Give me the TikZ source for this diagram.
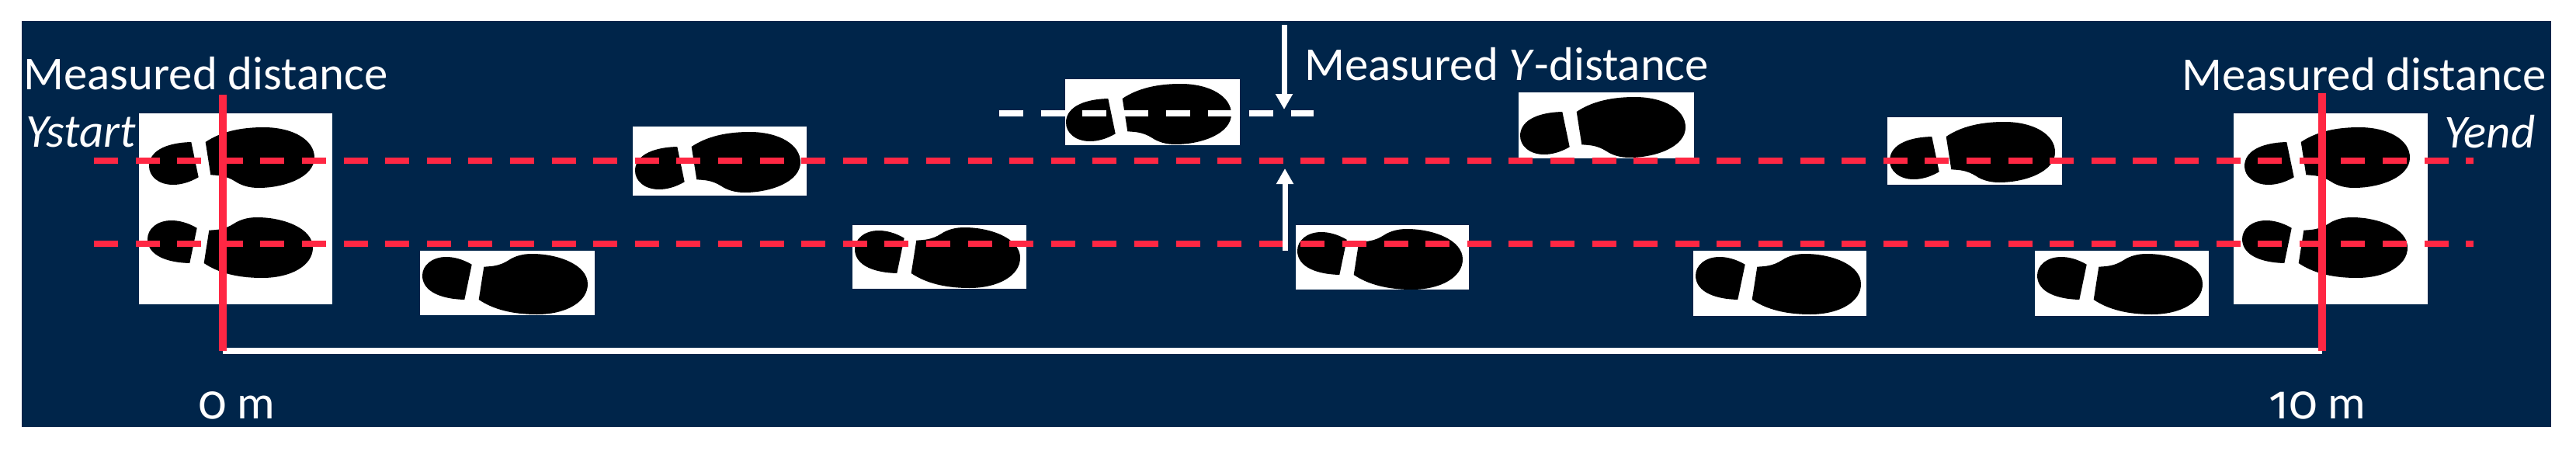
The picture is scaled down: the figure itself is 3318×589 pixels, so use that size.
\documentclass[tikz,border=0pt]{standalone}
\usepackage{fontspec}
\setmainfont{Carlito}
\newfontfamily\digitfont{Fira Sans}[Numbers=OldStyle]
\usetikzlibrary{arrows.meta}
\definecolor{panelblue}{HTML}{00254A}
\definecolor{redline}{HTML}{FF2743}
\newcommand\shoepaths{%
    \fill[black] (66.7,17.7) .. controls (55,11) and (44,8) .. (34,8) .. controls (15,8) and (3,19) .. (3,32)
      .. controls (3,50) and (22,62) .. (57.3,63) -- cycle;
    \fill[black] (82.3,20.7) .. controls (92,20) and (102,20) .. (114,12.3) .. controls (122,7) and (132,4) .. (144,4)
      .. controls (178,4) and (216,18) .. (216,43) .. controls (216,66) and (188,82) .. (150.7,82)
      .. controls (120,82) and (95,76) .. (75.7,63) -- cycle;
}
\tikzset{
  whitebox/.style={fill=white,draw=none},
  label/.style={text=white,anchor=base west,inner sep=0pt,font=\fontsize{30.4}{33}\selectfont},
  redsolid/.style={draw=redline,line width=5pt},
  reddash/.style={draw=redline,line width=4pt,dash pattern=on 15.5pt off 11.3pt},
  whitedash/.style={draw=white,line width=4pt,dash pattern=on 15.5pt off 11.35pt},
  whitearrow/.style={draw=white,line width=3.5pt,-{Triangle[width=10.5pt,length=10pt]}},
  shoeA/.pic={\shoepaths},
  shoeB/.pic={\begin{scope}[shift={(0,86)},yscale=-1]\shoepaths\end{scope}},
}
\begin{document}
\begin{tikzpicture}[x=.5pt,y=-.5pt]
\useasboundingbox (0,0) rectangle (3318,589);
\fill[panelblue] (28,27) rectangle (3286,550);
% white boxes
\foreach \a/\b/\c/\d in {179/146/428/392,541/323/766/406,815/163/1039/252,1098/290/1322/372,1372/102/1597/187,1669/290/1892/373,1956/119/2182/204,2181/323/2404/407,2431/151/2656/238,2621/323/2845/407,2877/146/3127/392}
  \fill[whitebox] (\a,\b) rectangle (\c,\d);
% shoes
\foreach \a/\b in {187/276,541/323,1098/289,1668/291,2181/323,2621/323,2885/276}
  \pic at (\a,\b) {shoeA};
\foreach \a/\b in {189/160,815/166,1370/104,1955/121,2431/153,2888/160}
  \pic at (\a,\b) {shoeB};
% coordinates
\coordinate (dl1) at (121,207); \coordinate (dr1) at (3186,207);
\coordinate (dl2) at (121,314); \coordinate (dr2) at (3186,314);
\coordinate (wl) at (1287,146); \coordinate (wr) at (1692,146);
\coordinate (vlt) at (287,122); \coordinate (vlb) at (287,452);
\coordinate (vrt) at (2991,120); \coordinate (vrb) at (2991,452);
\coordinate (at) at (1654,32); \coordinate (ah) at (1654,141);
\coordinate (bt) at (1655,323); \coordinate (bh) at (1655,217);
% lines
\draw[whitedash] (wl) -- (wr);
\draw[reddash] (dl1) -- (dr1);
\draw[reddash] (dl2) -- (dr2);
\draw[draw=white,line width=4pt] (vlb) -- (vrb);
\draw[redsolid] (vlt) -- (vlb);
\draw[redsolid] (vrt) -- (vrb);
\draw[whitearrow] (at) -- (ah);
\draw[whitearrow] (bt) -- (bh);
% labels
\node[label] (mdl) at (30,115) {Measured distance};
\node[label] (ys) at (33,189) {\itshape Ystart};
\node[label] (mdr) at (2810,116) {Measured distance};
\node[label] (ye) at (3148,190) {\itshape Yend};
\node[label] (my) at (1680,103) {Measured \textit{Y}-distance};
\node[label] (z) at (255,539) {{\digitfont 0} m};
\node[label] (t) at (2922,539) {{\digitfont 10} m};
\end{tikzpicture}
\end{document}
